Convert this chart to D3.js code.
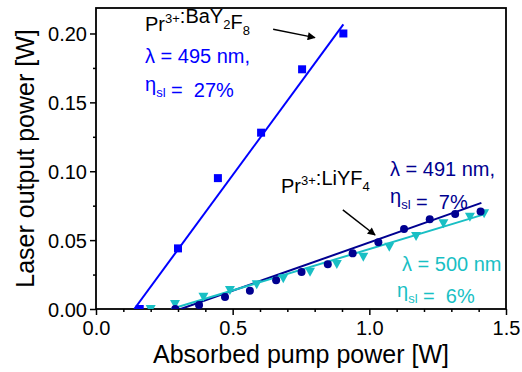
<!DOCTYPE html>
<html>
<head>
<meta charset="utf-8">
<script src="https://cdn.jsdelivr.net/npm/d3@7"></script>
<style>
  html, body { margin: 0; padding: 0; background: #fff; }
  svg { display: block; font-family: "Liberation Sans", Arial, sans-serif; }
  text { white-space: pre; }
</style>
</head>
<body>
<svg id="chart" width="522" height="372"></svg>
<script>
// Absorbed pump power [W] vs laser output power [W]
// Pr3+:BaY2F8, 495 nm (squares)
const bayPump   = [0.16, 0.30, 0.446, 0.604, 0.754, 0.905];
const bayOutput = [0.0, 0.044, 0.095, 0.128, 0.174, 0.200];
// Pr3+:LiYF4, 491 nm (circles)
const liy491Pump   = [0.29, 0.377, 0.472, 0.563, 0.659, 0.752, 0.848, 0.939, 1.033, 1.127, 1.221, 1.314, 1.407];
const liy491Output = [0.0, 0.0029, 0.0087, 0.0133, 0.0208, 0.0268, 0.0324, 0.0404, 0.0484, 0.0581, 0.0651, 0.0690, 0.0708];
// Pr3+:LiYF4, 500 nm (down triangles)
const liy500Pump   = [0.20, 0.289, 0.393, 0.490, 0.588, 0.685, 0.783, 0.881, 0.978, 1.073, 1.171, 1.271, 1.368, 1.42];
const liy500Output = [0.0, 0.0036, 0.0089, 0.0138, 0.0179, 0.0223, 0.0271, 0.0327, 0.0380, 0.0452, 0.0530, 0.0622, 0.0670, 0.0695];

// Linear fits: slope efficiency, threshold and last fitted pump power
const fitSlopes     = [0.27, 0.07, 0.06];
const fitThresholds = [0.14, 0.31, 0.275];
const fitEnds       = [0.905, 1.41, 1.423];

const xMajorTicks = [0, 0.5, 1.0, 1.5];
const xMinorTicks = [0.1, 0.2, 0.3, 0.4, 0.6, 0.7, 0.8, 0.9, 1.1, 1.2, 1.3, 1.4];
const yMajorTicks = [0, 0.05, 0.10, 0.15, 0.20];
const yMinorTicks = [0.025, 0.075, 0.125, 0.175];

const colors = ["#0000ff", "#000090", "#19bfc4"];

const svg = d3.select("#chart");
const margin = {top: 8, right: 16, bottom: 63, left: 96};
const W = 522, H = 372;
const iw = W - margin.left - margin.right;
const ih = H - margin.top - margin.bottom;

const x = d3.scaleLinear().domain([0, 1.5]).range([0, iw]);
const y = d3.scaleLinear().domain([0, 0.2185]).range([ih, 0]);

const g = svg.append("g").attr("transform", `translate(${margin.left},${margin.top})`);

svg.append("defs").append("clipPath").attr("id", "plotClip")
  .append("rect").attr("width", iw).attr("height", ih);
svg.select("defs").append("marker")
  .attr("id", "arrowHead").attr("viewBox", "0 0 10 10")
  .attr("refX", 9).attr("refY", 5)
  .attr("markerWidth", 10).attr("markerHeight", 8)
  .attr("markerUnits", "userSpaceOnUse")
  .attr("orient", "auto")
  .append("path").attr("d", "M0,0 L10,5 L0,10 Z").attr("fill", "#000");

// Axes
const tickFont = "20px";
const xAxis = g.append("g").attr("transform", `translate(0,${ih})`)
  .call(d3.axisBottom(x).tickValues(xMajorTicks).tickFormat(d3.format(".1f")).tickSize(6).tickSizeOuter(0));
xAxis.append("g").call(d3.axisBottom(x).tickValues(xMinorTicks).tickFormat("").tickSize(3).tickSizeOuter(0));
xAxis.selectAll("text").attr("y", 26).attr("dy", 0).attr("font-size", tickFont).attr("fill", "#000");

const yAxis = g.append("g")
  .call(d3.axisLeft(y).tickValues(yMajorTicks).tickFormat(d3.format(".2f")).tickSize(6).tickSizeOuter(0));
yAxis.append("g").call(d3.axisLeft(y).tickValues(yMinorTicks).tickFormat("").tickSize(3).tickSizeOuter(0));
yAxis.selectAll("text").attr("x", -9).attr("dy", "0.35em").attr("font-size", tickFont).attr("fill", "#000");

g.selectAll(".domain").remove();
g.selectAll(".tick line").attr("stroke", "#000").attr("stroke-width", 1.5);

g.append("rect").attr("width", iw).attr("height", ih)
  .attr("fill", "none").attr("stroke", "#000").attr("stroke-width", 1.8);

// Axis titles
svg.append("text").attr("x", margin.left + iw / 2).attr("y", 363)
  .attr("text-anchor", "middle").attr("font-size", "25px").text("Absorbed pump power [W]");
svg.append("text").attr("transform", `translate(34,${margin.top + ih / 2}) rotate(-90)`)
  .attr("text-anchor", "middle").attr("font-size", "25px").text("Laser output power [W]");

// Fit lines
const plot = g.append("g").attr("clip-path", "url(#plotClip)");
fitSlopes.forEach((s, i) => {
  const x0 = fitThresholds[i], x1 = fitEnds[i];
  plot.append("line")
    .attr("x1", x(x0)).attr("y1", y(0))
    .attr("x2", x(x1)).attr("y2", y(s * (x1 - x0)))
    .attr("stroke", colors[i]).attr("stroke-width", 2);
});

// Markers
const bay = bayPump.map((p, i) => [p, bayOutput[i]]);
const l491 = liy491Pump.map((p, i) => [p, liy491Output[i]]);
const l500 = liy500Pump.map((p, i) => [p, liy500Output[i]]);

plot.selectAll(".sq").data(bay).enter().append("rect")
  .attr("x", d => x(d[0]) - 4).attr("y", d => y(d[1]) - 4)
  .attr("width", 8).attr("height", 8).attr("fill", colors[0]);

plot.selectAll(".tri").data(l500).enter().append("path")
  .attr("transform", d => `translate(${x(d[0])},${y(d[1])})`)
  .attr("d", "M-5,-4 L5,-4 L0,5 Z").attr("fill", colors[2]);

plot.selectAll(".ci").data(l491).enter().append("circle")
  .attr("cx", d => x(d[0])).attr("cy", d => y(d[1])).attr("r", 4).attr("fill", colors[1]);

// Annotations
function richText(px, py, parts, color, size) {
  const t = svg.append("text").attr("x", px).attr("y", py)
    .attr("font-size", size + "px").attr("fill", color);
  parts.forEach(([str, mode]) => {
    const ts = t.append("tspan").text(str);
    if (mode === "sup") ts.attr("font-size", (size * 0.65) + "px").attr("dy", -8);
    if (mode === "sub") ts.attr("font-size", (size * 0.65) + "px").attr("dy", 6);
    if (mode === "sup" || mode === "sub") {
      t.append("tspan").attr("dy", mode === "sup" ? 8 : -6).text("");
    }
  });
  return t;
}
const ax = v => margin.left + x(v), ay = v => margin.top + y(v);
const annSize = 20;

richText(145, 31, [["Pr"], ["3+", "sup"], [":BaY"], ["2", "sub"], ["F"], ["8", "sub"]], "#000", annSize);
richText(145, 63, [["λ = 495 nm,"]], colors[0], annSize);
richText(145, 91, [["η"], ["sl", "sub"], [" =  27%"]], colors[0], annSize);

richText(390, 176, [["λ = 491 nm,"]], colors[1], annSize);
richText(390, 203, [["η"], ["sl", "sub"], [" =  7%"]], colors[1], annSize);
richText(281, 193, [["Pr"], ["3+", "sup"], [":LiYF"], ["4", "sub"]], "#000", annSize);

richText(402, 271, [["λ = 500 nm"]], colors[2], annSize);
richText(397, 297, [["η"], ["sl", "sub"], [" =  6%"]], colors[2], annSize);

// Pointer arrows
svg.append("line")
  .attr("x1", ax(0.648)).attr("y1", ay(0.203)).attr("x2", ax(0.801)).attr("y2", ay(0.197))
  .attr("stroke", "#000").attr("stroke-width", 1.5).attr("marker-end", "url(#arrowHead)");
svg.append("line")
  .attr("x1", ax(0.903)).attr("y1", ay(0.0719)).attr("x2", ax(1.021)).attr("y2", ay(0.0537))
  .attr("stroke", "#000").attr("stroke-width", 1.5).attr("marker-end", "url(#arrowHead)");
</script>
</body>
</html>
